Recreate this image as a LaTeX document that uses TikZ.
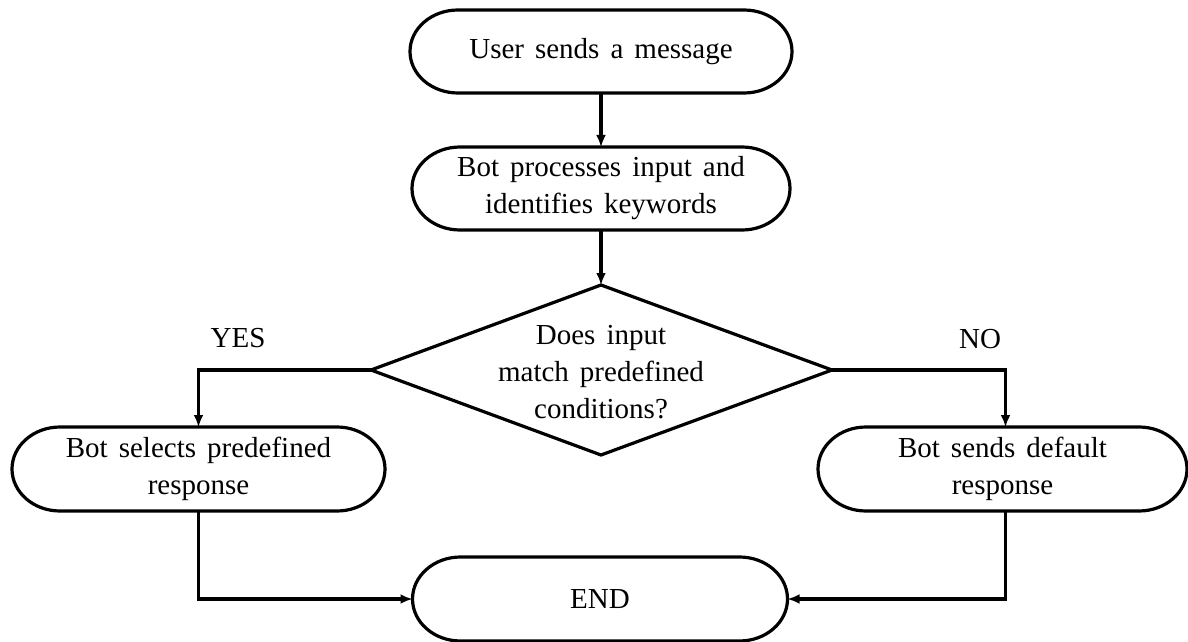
\documentclass[tikz,border=0pt]{standalone}
\usepackage{fontspec}
\setmainfont{Liberation Serif}
\usetikzlibrary{arrows.meta,calc}
\newcommand\widesp{\spaceskip=0.38em\relax}
\tikzset{
  box/.style={draw=none, inner sep=0pt, outer sep=0pt, align=center, font=\fontsize{29}{37}\selectfont},
  lbl/.style={inner sep=0pt, font=\fontsize{29}{37}\selectfont},
  outl/.style={line width=3.2pt, black},
  conn/.style={line width=3.2pt, black},
  arr/.style={conn, -{Latex[length=12pt,width=10pt]}},
}
\newcommand\stadline[1]{%
  \draw[outl] let \p1=(#1.north west), \p2=(#1.south east), \n1={(\y1-\y2)/2} in
    ($(\x1,\y1)+(48pt,0pt)$) -- ($(\x2,\y1)+(-48pt,0pt)$)
    arc[start angle=90,end angle=-90,x radius=48pt,y radius=\n1]
    -- ($(\x1,\y2)+(48pt,0pt)$)
    arc[start angle=270,end angle=90,x radius=48pt,y radius=\n1] -- cycle;}
\begin{document}
\begin{tikzpicture}[x=1pt,y=1pt]
\useasboundingbox[fill=white] (0,0) rectangle (1188,641);
\node[box, minimum width=382pt, minimum height=83pt] (n1) at (601,589.5) {\widesp User sends a message};
\node[box, minimum width=378pt, minimum height=83pt] (n2) at (601,452.5) {\widesp Bot processes input and\\\widesp identifies keywords};
\node[box] (dia) at (601,269) {\widesp Does input\\\widesp match predefined\\conditions?};
\coordinate (dT) at (601,356);
\coordinate (dB) at (601,186);
\coordinate (dL) at (371,271);
\coordinate (dR) at (832,271);
\node[box, minimum width=373pt, minimum height=84pt] (lf) at (198.5,172) {\widesp Bot selects predefined\\response};
\node[box, minimum width=369pt, minimum height=84pt] (rt) at (1002.5,172) {\widesp Bot sends default\\response};
\node[box, minimum width=375pt, minimum height=84pt] (en) at (600,42) {END};
\node[lbl] (yes) at (238,303) {YES};
\node[lbl] (no) at (980,302) {NO};
\stadline{n1}
\stadline{n2}
\stadline{lf}
\stadline{rt}
\stadline{en}
\draw[outl, line join=miter] (dT) -- (dR) -- (dB) -- (dL) -- cycle;
\draw[arr] (n1.south) -- (n2.north);
\draw[arr] (n2.south) -- (dT);
\draw[arr] (dL) -| (lf.north);
\draw[arr] (dR) -| ([xshift=3pt]rt.north);
\draw[arr] (lf.south) |- (en.west);
\draw[arr] ([xshift=3pt]rt.south) |- (en.east);
\end{tikzpicture}
\end{document}
